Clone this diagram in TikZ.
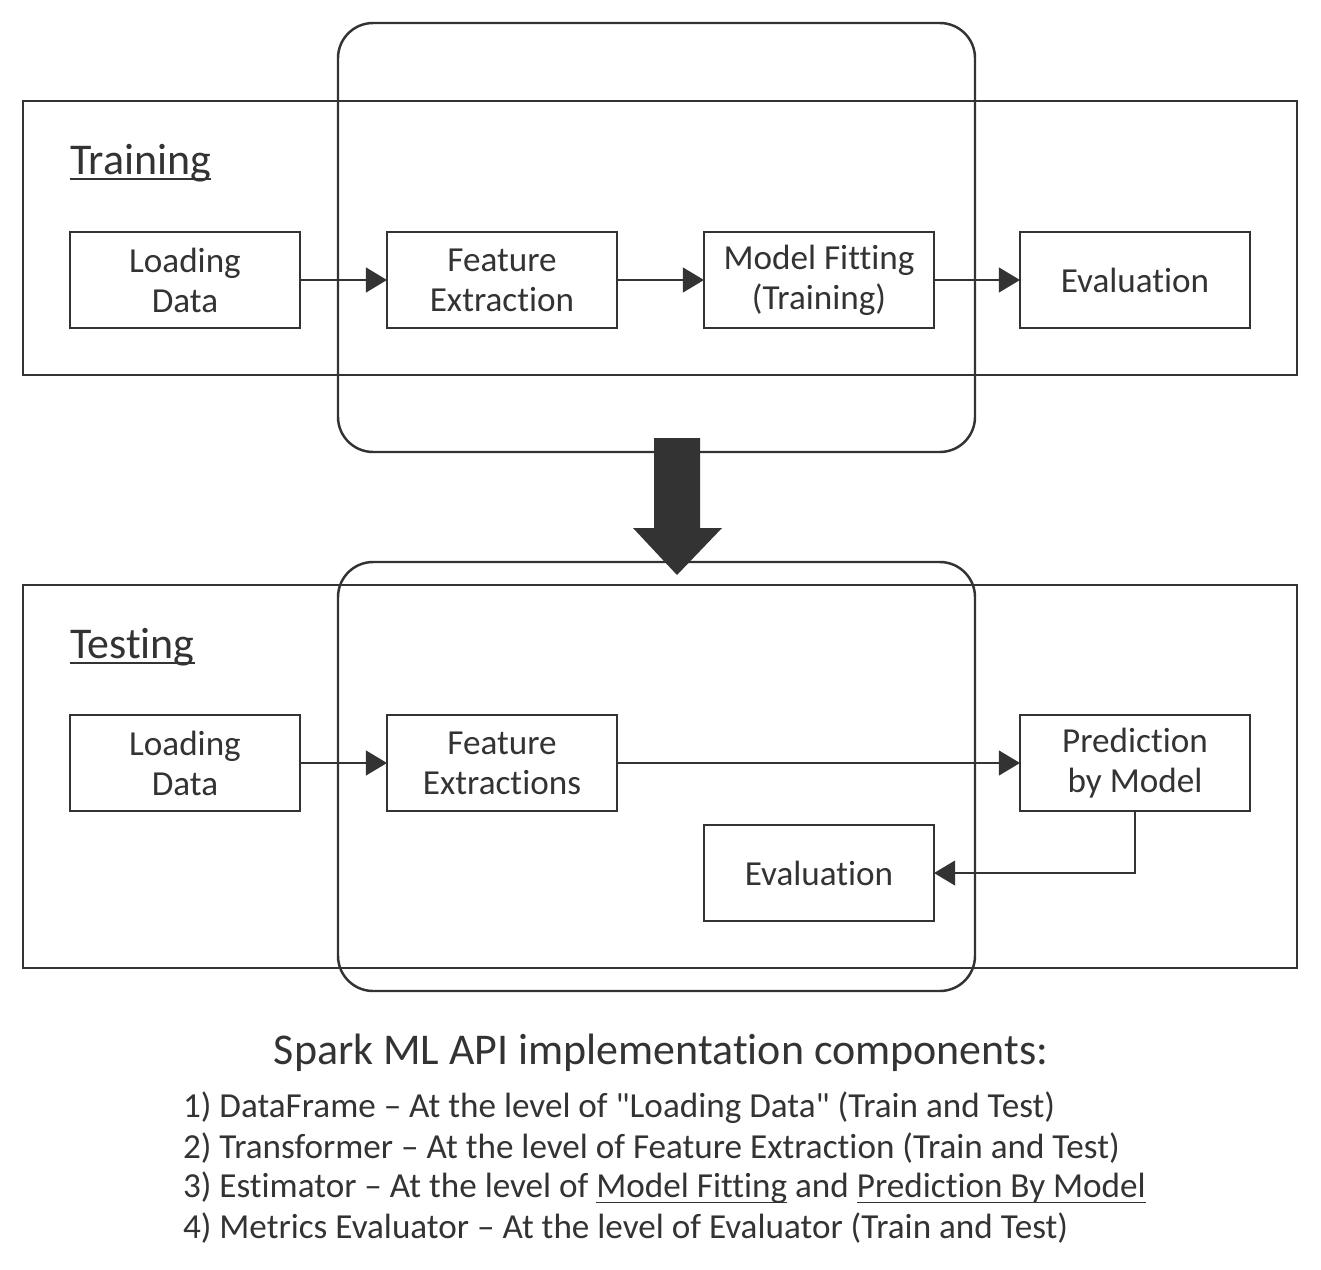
\documentclass[tikz,border=0pt]{standalone}
\usepackage{fontspec}
\setmainfont[Ligatures={NoCommon}]{Carlito}
\usepackage{tikz}
\usetikzlibrary{positioning,arrows.meta,calc}
\definecolor{ink}{HTML}{333333}
\newcommand{\undl}[1]{\setbox0\hbox{#1}\rlap{\rule[-1.6pt]{\wd0}{0.5pt}}\box0\relax}

\begin{document}
\begin{tikzpicture}[x={(0.1mm,0cm)},y={(0cm,-0.1mm)},
  every node/.style={text=ink, outer sep=0pt},
  box/.style={draw=ink, line width=0.7pt, fill=white, minimum width=23mm, minimum height=9.6mm, align=center, font=\fontsize{10}{11.4}\selectfont},
  frame/.style={draw=ink, line width=0.7pt},
  legend/.style={anchor=west, inner sep=0pt, font=\fontsize{10}{12}\selectfont},
  flow/.style={draw=ink, line width=0.7pt, -{Triangle[length=6pt,width=7pt]}}]
\useasboundingbox (0,0) rectangle (1321,1269);
% stages
\draw[frame] (23,101) rectangle (1297,375);
\draw[frame] (23,585) rectangle (1297,968);
\draw[frame, rounded corners=10pt] (338,23) rectangle (975,452);
\draw[frame, rounded corners=10pt] (338,562) rectangle (975,991);
\node[anchor=west, inner sep=0pt, font=\fontsize{12.5}{15}\selectfont] (train) at (70,163) {\undl{Training}};
\node[anchor=west, inner sep=0pt, font=\fontsize{12.5}{15}\selectfont] (test) at (70,647) {\undl{Testing}};
% training row
\node[box] (load1) at (185,280) {Loading\\Data};
\node[box] (feat1) at (502,280) {Feature\\Extraction};
\node[box] (fit1) at (819,280) {Model Fitting\\(Training)};
\node[box] (eval1) at (1135,280) {Evaluation};
\draw[flow] (load1) -- (feat1);
\draw[flow] (feat1) -- (fit1);
\draw[flow] (fit1) -- (eval1);
% testing row
\node[box] (load2) at (185,763) {Loading\\Data};
\node[box] (feat2) at (502,763) {Feature\\Extractions};
\node[box] (pred2) at (1135,763) {Prediction\\by Model};
\node[box] (eval2) at (819,873) {Evaluation};
\draw[flow] (load2) -- (feat2);
\draw[flow] (feat2) -- (pred2);
\draw[flow] (pred2.south) |- (eval2.east);
% big arrow
\fill[ink] (654,438) -- (700,438) -- (700,528) -- (722,528) -- (677,575) -- (633,528) -- (654,528) -- cycle;
% legend
\node[font=\fontsize{12.5}{15}\selectfont] (title) at (661,1053) {Spark ML API implementation components:};
\node[legend] (l1) at (183,1108) {1) DataFrame -- At the level of \textquotedbl Loading Data\textquotedbl{} (Train and Test)};
\node[legend] (l2) at (183,1148) {2) Transformer -- At the level of Feature Extraction (Train and Test)};
\node[legend] (l3) at (183,1188) {3) Estimator -- At the level of \undl{Model Fitting} and \undl{Prediction By Model}};
\node[legend] (l4) at (183,1228) {4) Metrics Evaluator -- At the level of Evaluator (Train and Test)};
\end{tikzpicture}
\end{document}
